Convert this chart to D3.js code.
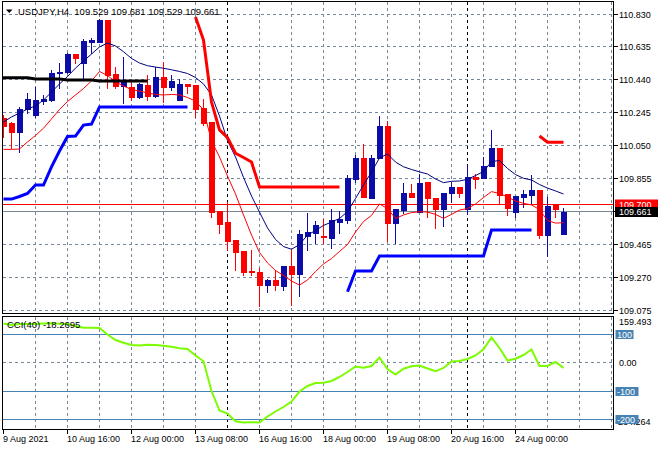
<!DOCTYPE html>
<html><head><meta charset="utf-8">
<script src="https://cdn.jsdelivr.net/npm/d3@7"></script>
<style>
body{margin:0;background:#fff;}
svg{display:block;font-family:"Liberation Sans",Arial,sans-serif;}
</style>
</head><body>
<svg id="c" width="660" height="450"></svg>
<script>
// ---------------- DATA ----------------
const symbol = "USDJPY,H4";
const lastBar = [109.529, 109.681, 109.529, 109.661]; // O H L C shown in title
const open  = [110.215,110.187,110.134,110.266,110.232,110.317,110.321,110.479,110.485,110.592,
               110.542,110.664,110.666,110.794,110.475,110.404,110.396,110.341,110.410,110.347,
               110.455,110.400,110.321,110.414,110.410,110.272,110.193,109.664,109.601,109.493,
               109.430,109.311,109.302,109.227,109.256,109.222,109.339,109.292,109.516,109.532,
               109.516,109.506,109.601,109.611,109.854,109.978,109.744,109.976,110.167,109.596,
               109.670,109.769,109.660,109.838,109.740,109.674,109.769,109.805,109.676,109.864,
               109.858,109.931,110.035,109.763,109.660,109.749,109.759,109.789,109.522,109.700,
               109.529];
const high  = [110.232,110.191,110.280,110.363,110.398,110.351,110.499,110.538,110.599,110.594,
               110.682,110.686,110.800,110.794,110.518,110.577,110.434,110.420,110.469,110.518,
               110.544,110.469,110.445,110.416,110.410,110.325,110.193,109.664,109.719,109.493,
               109.430,109.434,109.325,109.260,109.315,109.339,109.434,109.552,109.651,109.605,
               109.615,109.674,109.666,109.877,109.996,110.061,109.996,110.226,110.199,109.674,
               109.832,109.824,109.883,109.838,109.740,109.769,109.838,109.805,109.937,109.883,
               109.982,110.144,110.035,109.763,109.753,109.789,109.877,109.789,109.749,109.706,
               109.681];
const low   = [110.102,110.037,110.015,110.244,110.222,110.297,110.317,110.390,110.479,110.538,
               110.440,110.597,110.666,110.390,110.390,110.302,110.321,110.335,110.321,110.341,
               110.311,110.380,110.321,110.361,110.222,110.173,109.631,109.532,109.434,109.315,
               109.286,109.286,109.102,109.187,109.197,109.197,109.108,109.161,109.434,109.477,
               109.473,109.447,109.532,109.595,109.836,109.747,109.744,109.976,109.489,109.477,
               109.651,109.749,109.660,109.627,109.562,109.577,109.719,109.749,109.647,109.799,
               109.858,109.931,109.710,109.641,109.631,109.690,109.710,109.503,109.398,109.631,
               109.529];
const close = [110.167,110.134,110.266,110.325,110.321,110.327,110.479,110.489,110.592,110.568,
               110.670,110.674,110.794,110.469,110.406,110.434,110.341,110.414,110.345,110.455,
               110.396,110.434,110.416,110.404,110.265,110.183,109.660,109.587,109.489,109.424,
               109.305,109.303,109.227,109.256,109.227,109.339,109.292,109.527,109.542,109.582,
               109.509,109.611,109.617,109.860,109.978,109.750,109.978,110.167,109.596,109.674,
               109.769,109.749,109.832,109.740,109.674,109.769,109.805,109.769,109.864,109.856,
               109.931,110.035,109.759,109.680,109.753,109.763,109.789,109.522,109.694,109.674,
               109.661];
// thin red moving average
const maFast = [110.029,110.029,110.031,110.073,110.111,110.154,110.209,110.265,110.312,110.351,
                110.389,110.434,110.490,110.466,110.429,110.404,110.383,110.374,110.363,110.354,
                110.351,110.354,110.351,110.336,110.315,110.262,110.079,109.984,109.871,109.765,
                109.641,109.522,109.419,109.357,109.312,109.283,109.250,109.226,109.256,109.306,
                109.351,109.383,109.425,109.466,109.540,109.602,109.638,109.706,109.679,109.620,
                109.641,109.655,109.660,109.658,109.644,109.621,109.644,109.670,109.679,109.706,
                109.744,109.779,109.768,109.747,109.723,109.710,109.700,109.673,109.608,109.593,
                109.595];
// thin navy moving average
const maSlow = [110.191,110.221,110.244,110.268,110.286,110.321,110.368,110.416,110.460,110.510,
                110.552,110.593,110.635,110.658,110.641,110.607,110.567,110.540,110.524,110.516,
                110.509,110.500,110.490,110.478,110.454,110.416,110.351,110.226,110.081,109.984,
                109.863,109.753,109.658,109.564,109.496,109.454,109.438,109.466,109.522,109.549,
                109.579,109.599,109.620,109.661,109.738,109.818,109.895,109.978,110.002,109.954,
                109.926,109.910,109.896,109.883,109.854,109.832,109.840,109.842,109.852,109.874,
                109.898,109.957,109.963,109.916,109.880,109.858,109.848,109.821,109.800,109.783,
                109.765];
// thick black level
const pivotLine = [110.453,110.453,110.453,110.453,110.445,110.445,110.445,110.445,110.439,110.439,
                   110.439,110.439,110.434,110.434,110.434,110.434,110.434,110.434,110.434];
// thick blue lower stop line (null = not drawn)
const supportLine = [109.735,109.735,109.750,109.768,109.818,109.818,109.925,110.019,110.105,110.108,
                     110.173,110.179,110.280,110.280,110.280,110.280,110.280,110.280,110.280,110.280,
                     110.280,110.280,110.280,110.280,null,null,null,null,null,null,
                     null,null,null,null,null,null,null,null,null,null,
                     null,null,null,109.187,109.309,109.309,109.309,109.398,109.398,109.398,
                     109.398,109.398,109.398,109.398,109.398,109.398,109.398,109.398,109.398,109.398,
                     109.398,109.552,109.552,109.552,109.552,109.552,109.552,null,null,null,
                     null];
// thick red upper stop line
const resistLine = [null,null,null,null,null,null,null,null,null,null,
                    null,null,null,null,null,null,null,null,null,null,
                    null,null,null,null,110.812,110.676,110.309,110.144,110.099,110.006,
                    109.981,109.954,109.806,109.806,109.806,109.806,109.806,109.806,109.806,109.806,
                    109.806,109.806,109.806,null,null,null,null,null,null,null,
                    null,null,null,null,null,null,null,null,null,null,
                    null,null,null,null,null,null,null,110.108,110.071,110.071,
                    110.071];
// CCI(40)
const cciPeriod = 40;
const cci = [137.7,132.4,135.9,135.9,135.9,137.7,138.4,136.6,135.9,128.9,
             122.9,122.9,121.9,99.1,79.7,70.2,62.2,60.4,63.2,62.2,
             59.7,55.8,50.9,48.1,25.3,4.9,-99.4,-167.9,-178.4,-205.8,
             -210.0,-209.0,-210.0,-189.0,-171.4,-155.6,-136.3,-101.2,-81.8,-71.3,
             -70.2,-64.3,-50.2,-32.7,-13.3,-17.9,-11.6,18.3,-22.1,-41.4,
             -21.1,-12.3,-9.8,-20.4,-30.2,-18.6,4.2,6.0,13.0,25.3,
             47.1,88.5,51.6,7.7,14.0,27.0,46.4,-11.6,-11.6,2.5,
             -18.2695];
const cciLevels = [100, -100, -200];
const cciRange = [-234.264, 159.493];
const priceRange = [109.075, 110.830];
const priceTicks = [110.830,110.635,110.440,110.245,110.050,109.855,109.660,109.465,109.270,109.075];
const askPrice = 109.700, bidPrice = 109.661;
const timeLabels = ["9 Aug 2021","10 Aug 16:00","12 Aug 00:00","13 Aug 08:00","16 Aug 16:00",
                    "18 Aug 00:00","19 Aug 08:00","20 Aug 16:00","24 Aug 00:00"];
const timeLabelBars = [0,8,16,24,32,40,48,56,64];
const weekStartBars = [28, 58];
const visibleBars = 77;

// ---------------- LAYOUT ----------------
const L = 2.5, R = 613.5, T = 1.5, MB = 313.5, CT = 316.5, CB = 429.5;
const BLUE = "#0c0ca8", RED = "#ff0000", GRID = "#778899";
const svg = d3.select("#c");
const x = d3.scaleLinear().domain([0, visibleBars - 1]).range([3.5, 3.5 + 8 * (visibleBars - 1)]);
const y = d3.scaleLinear().domain(priceRange).range([310.6, 14]);
const yc = d3.scaleLinear().domain(cciRange).range([429.4, 317.3]);
const crisp = v => Math.round(v - 0.5) + 0.5;

const defs = svg.append("defs");
defs.append("clipPath").attr("id","cm").append("rect").attr("x",L).attr("y",T).attr("width",R-L).attr("height",MB-T);
defs.append("clipPath").attr("id","cc").append("rect").attr("x",L).attr("y",CT).attr("width",R-L).attr("height",CB-CT);

const gm = svg.append("g").attr("clip-path","url(#cm)");
const gc = svg.append("g").attr("clip-path","url(#cc)");

// grids
const gridBars = d3.range(4, visibleBars, 4);
[[gm,T,MB],[gc,CT,CB]].forEach(([g,t,b]) => {
  g.selectAll(null).data(gridBars).enter().append("line")
    .attr("x1", d => crisp(x(d))).attr("x2", d => crisp(x(d)))
    .attr("y1", t).attr("y2", b)
    .attr("stroke", d => weekStartBars.includes(d) ? "#000" : GRID)
    .attr("stroke-dasharray","3,3").attr("shape-rendering","crispEdges");
  g.selectAll(null).data(weekStartBars.filter(d => !gridBars.includes(d))).enter().append("line")
    .attr("x1", d => crisp(x(d))).attr("x2", d => crisp(x(d)))
    .attr("y1", t).attr("y2", b)
    .attr("stroke","#000").attr("stroke-dasharray","3,3").attr("shape-rendering","crispEdges");
});
gm.selectAll(null).data(priceTicks).enter().append("line")
  .attr("x1", L).attr("x2", R).attr("y1", d => crisp(y(d))).attr("y2", d => crisp(y(d)))
  .attr("stroke", GRID).attr("stroke-dasharray","3,3").attr("shape-rendering","crispEdges");
gc.append("line").attr("x1",L).attr("x2",R).attr("y1",crisp(yc(0))).attr("y2",crisp(yc(0)))
  .attr("stroke", GRID).attr("stroke-dasharray","3,3").attr("shape-rendering","crispEdges");
gc.selectAll(null).data(cciLevels).enter().append("line")
  .attr("x1",L).attr("x2",R).attr("y1",d=>crisp(yc(d))).attr("y2",d=>crisp(yc(d)))
  .attr("stroke","#4682b4").attr("shape-rendering","crispEdges");

// bid / ask lines
gm.append("line").attr("x1",L).attr("x2",R).attr("y1",crisp(y(askPrice))).attr("y2",crisp(y(askPrice)))
  .attr("stroke",RED).attr("shape-rendering","crispEdges");
gm.append("line").attr("x1",L).attr("x2",R).attr("y1",crisp(y(bidPrice))).attr("y2",crisp(y(bidPrice)))
  .attr("stroke",GRID).attr("shape-rendering","crispEdges");

// candles
const bars = d3.range(open.length).map(i => ({i, o:open[i], h:high[i], l:low[i], c:close[i]}));
const cg = gm.append("g").attr("shape-rendering","crispEdges");
cg.selectAll(null).data(bars).enter().append("line")
  .attr("x1", d => crisp(x(d.i))).attr("x2", d => crisp(x(d.i)))
  .attr("y1", d => Math.round(y(d.h))).attr("y2", d => Math.round(y(d.l)) + 1)
  .attr("stroke", d => d.c >= d.o ? BLUE : RED);
cg.selectAll(null).data(bars).enter().append("rect")
  .attr("x", d => crisp(x(d.i)) - 2.5)
  .attr("width", 6)
  .attr("y", d => Math.round(y(Math.max(d.o, d.c))))
  .attr("height", d => Math.max(2, Math.round(y(Math.min(d.o, d.c))) - Math.round(y(Math.max(d.o, d.c))) + 1))
  .attr("fill", d => d.c >= d.o ? BLUE : RED);

// indicator lines
const mk = arr => d3.line().defined(d => d != null).x((d,i) => x(i)).y(d => y(d))(arr);
gm.append("path").attr("d", mk(maSlow)).attr("fill","none").attr("stroke","#000080").attr("stroke-width",1);
gm.append("path").attr("d", mk(maFast)).attr("fill","none").attr("stroke",RED).attr("stroke-width",1);
gm.append("path").attr("d", d3.line().x((d,i)=> i===0 ? L : x(i)).y(d=>y(d))(pivotLine))
  .attr("fill","none").attr("stroke","#000").attr("stroke-width",3);
gm.append("path").attr("d", mk(supportLine)).attr("fill","none").attr("stroke","#0000ff").attr("stroke-width",3);
gm.append("path").attr("d", mk(resistLine)).attr("fill","none").attr("stroke",RED).attr("stroke-width",3);

// CCI line
gc.append("path").attr("d", d3.line().x((d,i)=>x(i)).y(d=>yc(d))(cci))
  .attr("fill","none").attr("stroke","#7cfc00").attr("stroke-width",2);

// frames
const fr = svg.append("g").attr("fill","none").attr("stroke","#000").attr("shape-rendering","crispEdges");
fr.append("rect").attr("x",L).attr("y",T).attr("width",R-L).attr("height",MB-T);
fr.append("rect").attr("x",L).attr("y",CT).attr("width",R-L).attr("height",CB-CT);

// right axis
const ax = svg.append("g").attr("font-size",9).attr("fill","#000");
svg.selectAll(null).data(priceTicks).enter().append("line")
  .attr("x1",R).attr("x2",R+4).attr("y1",d=>crisp(y(d))).attr("y2",d=>crisp(y(d)))
  .attr("stroke","#000").attr("shape-rendering","crispEdges");
ax.selectAll(null).data(priceTicks.filter(p => Math.abs(p - bidPrice) > 0.03)).enter().append("text")
  .attr("x", 619).attr("y", d => y(d) + 3.5).text(d => d.toFixed(3));

// ask / bid labels
svg.append("rect").attr("x",615).attr("y",crisp(y(askPrice))-5).attr("width",43).attr("height",10).attr("fill",RED);
svg.append("text").attr("x",619).attr("y",y(askPrice)+3.5).attr("font-size",9).attr("fill","#fff").text(askPrice.toFixed(3));
svg.append("rect").attr("x",615).attr("y",crisp(y(bidPrice))-4.5).attr("width",43).attr("height",10).attr("fill","#000");
svg.append("text").attr("x",619).attr("y",y(bidPrice)+3.5).attr("font-size",9).attr("fill","#fff").text(bidPrice.toFixed(3));

// CCI axis
ax.append("text").attr("x",619).attr("y",yc(cciRange[1])+8).text(cciRange[1].toFixed(3));
ax.append("text").attr("x",619).attr("y",yc(0)+3.5).text("0.00");
cciLevels.forEach(v => {
  const t = String(v);
  const w = t.length * 5 + 3;
  svg.append("rect").attr("x",615.5).attr("y",crisp(yc(v))-4.5).attr("width",w).attr("height",9).attr("fill","#4682b4");
  svg.append("text").attr("x",617).attr("y",yc(v)+3.5).attr("font-size",9).attr("fill","#fff").text(t);
});
ax.append("text").attr("x",615).attr("y",yc(cciRange[0])-4).text(cciRange[0].toFixed(3));

// time axis
svg.selectAll(null).data(timeLabelBars).enter().append("line")
  .attr("x1",d=>crisp(x(d))).attr("x2",d=>crisp(x(d))).attr("y1",CB).attr("y2",CB+4)
  .attr("stroke","#000").attr("shape-rendering","crispEdges");
ax.selectAll(null).data(timeLabels).enter().append("text")
  .attr("x",(d,i)=>x(timeLabelBars[i]) - 0.5).attr("y",441.5).text(d=>d);

// titles
svg.append("path").attr("d","M6,9.5 L12.5,9.5 L9.25,13 Z").attr("fill","#000");
svg.append("text").attr("x",18).attr("y",14.5).attr("font-size",9.5).attr("fill","#000")
  .attr("xml:space","preserve")
  .text(symbol + "  " + lastBar.map(v=>v.toFixed(3)).join(" "));
svg.append("text").attr("x",7).attr("y",328).attr("font-size",9.5).attr("fill","#000")
  .attr("xml:space","preserve")
  .text("CCI(" + cciPeriod + ") " + cci[cci.length-1].toFixed(4));
</script>
</body></html>
